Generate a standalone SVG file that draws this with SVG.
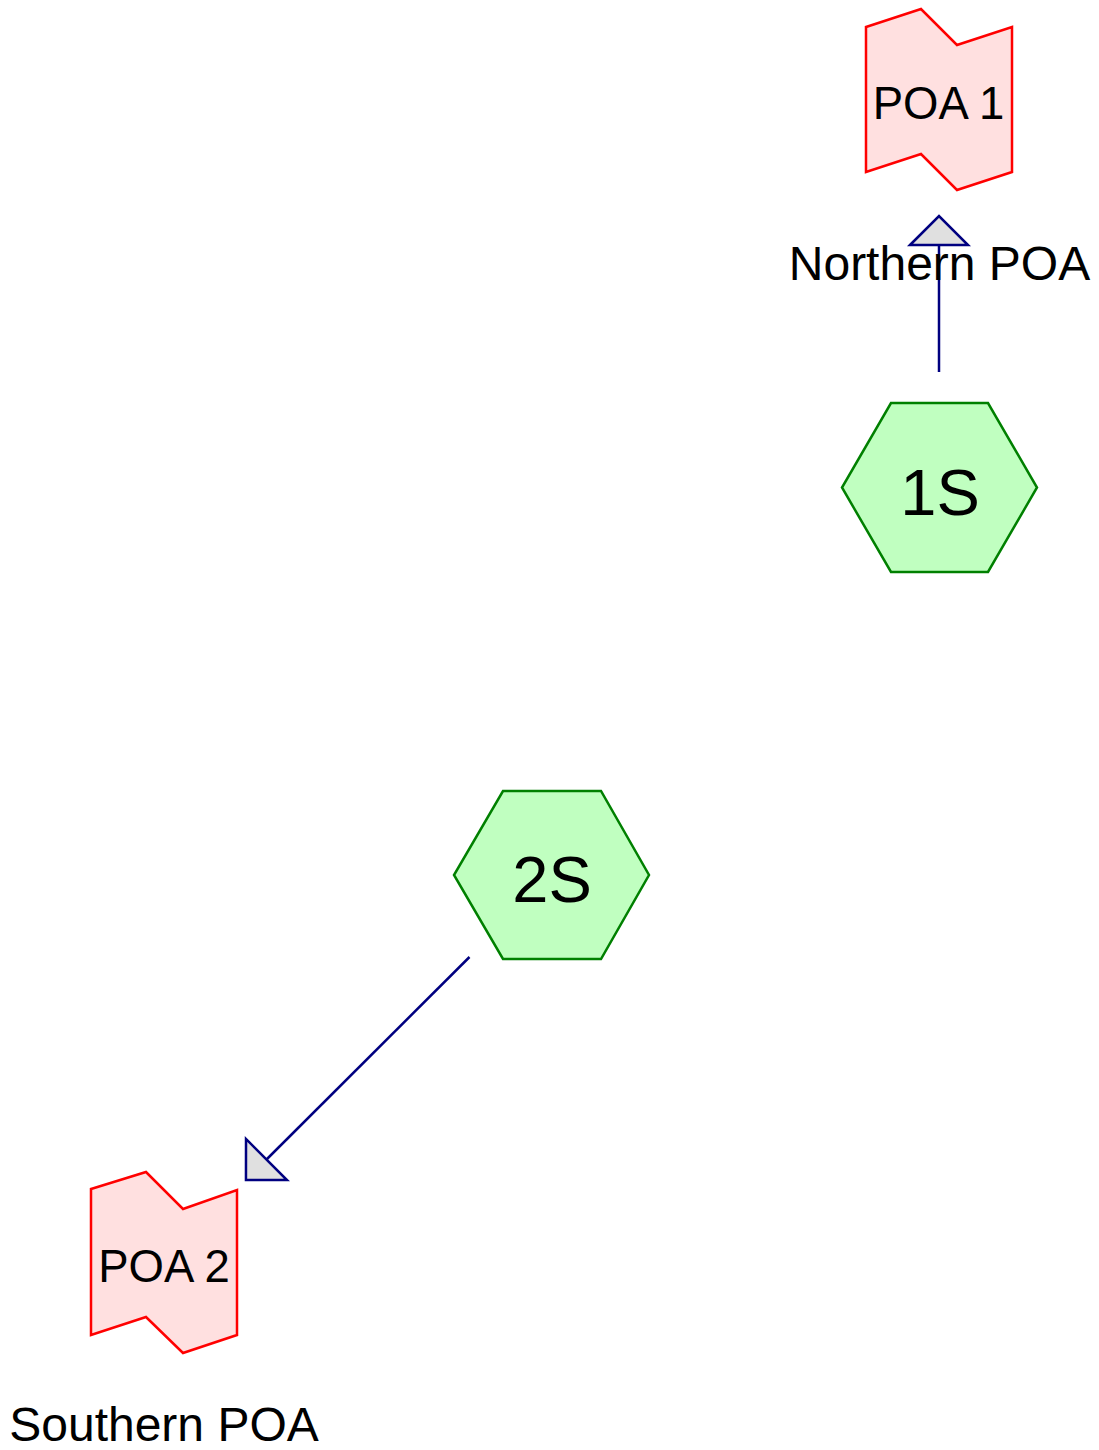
<svg xmlns="http://www.w3.org/2000/svg" width="1099" height="1450" viewBox="0 0 1099 1450">
<style>
text{font-family:"Liberation Sans",Arial,sans-serif;fill:#000;text-anchor:middle}
.poa{fill:#ffe0e0;stroke:#ff0000;stroke-width:2.5}
.hex{fill:#c0ffc0;stroke:#008000;stroke-width:2.5}
.edge{stroke:#000080;stroke-width:2.5;fill:none}
.lbl{font-size:48px}
.poat{font-size:45.5px}
.hext{font-size:65px}
</style>
<defs>
<marker id="tri" markerUnits="userSpaceOnUse" viewBox="0 0 33 62" markerWidth="33" markerHeight="62" refX="1.5" refY="31" orient="auto" overflow="visible">
<path d="M1.5,2 L30.5,31 L1.5,60 Z" fill="#e0e0e0" stroke="#000080" stroke-width="2.5" stroke-linejoin="miter"/>
</marker>
</defs>
<g id="connectors">
<line class="edge" x1="939" y1="372" x2="939" y2="245" marker-end="url(#tri)"/>
<line class="edge" x1="469.5" y1="957" x2="266.5" y2="1159.5" marker-end="url(#tri)"/>
</g>
<g id="poa1">
<polygon class="poa" points="866,27 921,9 957,45 1012,27 1012,172 957,190 921,154 866,172"/>
<text class="poat" x="938.5" y="119">POA 1</text>
<text class="lbl" x="939.5" y="280">Northern POA</text>
</g>
<g id="poa2">
<polygon class="poa" points="91,1189 146,1172 183,1209 237,1190 237,1335 183,1353 146,1317 91,1335"/>
<text class="poat" x="164" y="1282">POA 2</text>
<text class="lbl" x="164" y="1441">Southern POA</text>
</g>
<g id="s1">
<polygon class="hex" points="891,403 988,403 1037,487.5 988,572 891,572 842,487.5"/>
<text class="hext" x="940" y="515">1S</text>
</g>
<g id="s2">
<polygon class="hex" points="503,791 601,791 649,875 601,959 503,959 454,875"/>
<text class="hext" x="552" y="902">2S</text>
</g>
</svg>
